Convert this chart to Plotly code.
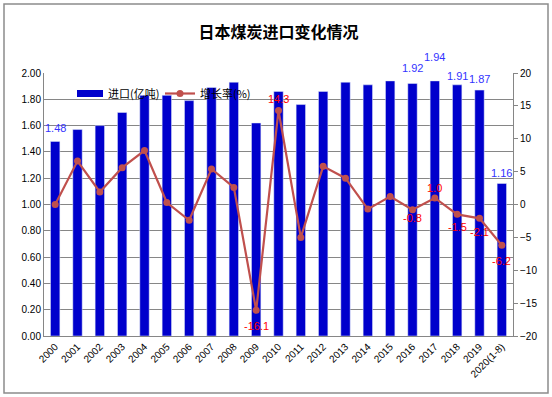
import plotly.graph_objects as go

years = ["2000", "2001", "2002", "2003", "2004", "2005", "2006", "2007", "2008", "2009", "2010",
         "2011", "2012", "2013", "2014", "2015", "2016", "2017", "2018", "2019", "2020(1-8)"]
imports = [1.48, 1.57, 1.60, 1.70, 1.83, 1.83, 1.79, 1.89, 1.93, 1.62, 1.86,
           1.76, 1.86, 1.93, 1.91, 1.94, 1.92, 1.94, 1.91, 1.87, 1.16]
growth = [0.0, 6.6, 1.9, 5.6, 8.2, 0.3, -2.4, 5.4, 2.6, -16.1, 14.3,
          -5.0, 5.8, 4.0, -0.7, 1.2, -0.8, 1.0, -1.5, -2.1, -6.2]
series_names = ["进口(亿吨)", "增长率(%)"]

# labelled points: (index, vertical shift in px)
bar_labels = {0: 13, 16: 16, 17: 24, 18: 9, 19: 11, 20: 10}
line_labels = {9: -16, 10: 11, 16: -8, 17: 10, 18: -13, 19: -14, 20: -16}

BLUE = "#0000CC"
RED_LINE = "#C0504D"
FONT = "Liberation Sans, Noto Sans CJK SC, sans-serif"
CJK = "Noto Sans CJK SC"

W, H = 552, 397
L, R, T, B = 44, 39, 73, 61
PW, PH = W - L - R, H - T - B


def px(x):
    return (x - L) / PW


def py(y):
    return (H - B - y) / PH


fig = go.Figure()
fig.add_trace(go.Bar(x=years, y=imports, name=series_names[0], marker_color=BLUE,
                     width=0.42, yaxis="y", showlegend=False))
fig.add_trace(go.Scatter(x=years, y=growth, name=series_names[1], mode="lines+markers",
                         line=dict(color=RED_LINE, width=2.2),
                         marker=dict(color=RED_LINE, size=7), yaxis="y2", showlegend=False))

for i, s in bar_labels.items():
    fig.add_annotation(x=i, xref="x", y=imports[i], yref="y", text=f"{imports[i]:.2f}",
                       showarrow=False, yshift=s, font=dict(color="#3333FF", size=11, family=FONT))
for i, s in line_labels.items():
    fig.add_annotation(x=i, xref="x", y=growth[i], yref="y2", text=f"{growth[i]:.1f}",
                       showarrow=False, yshift=s, font=dict(color="#FF0000", size=11, family=FONT))

# custom legend (wide bar swatch as in the reference)
fig.add_shape(type="rect", xref="paper", yref="paper", x0=px(77), x1=px(103),
              y0=py(97), y1=py(90), fillcolor=BLUE, line=dict(width=0))
fig.add_annotation(xref="paper", yref="paper", x=px(106), y=py(93.5), xanchor="left",
                   yanchor="middle", text=series_names[0], showarrow=False,
                   font=dict(size=11, color="black", family=CJK))
fig.add_shape(type="line", xref="paper", yref="paper", x0=px(165), x1=px(195),
              y0=py(93.5), y1=py(93.5), line=dict(color=RED_LINE, width=2.2))
fig.add_shape(type="circle", xref="paper", yref="paper", x0=px(176.5), x1=px(183.5),
              y0=py(97), y1=py(90), fillcolor=RED_LINE, line=dict(width=0))
fig.add_annotation(xref="paper", yref="paper", x=px(198), y=py(93.5), xanchor="left",
                   yanchor="middle", text=series_names[1], showarrow=False,
                   font=dict(size=11, color="black", family=CJK))

# outer chart border
fig.add_shape(type="rect", xref="paper", yref="paper", x0=px(4), x1=px(548),
              y0=py(393), y1=py(4), line=dict(color="#8C8C8C", width=1.5), layer="below")

fig.update_layout(
    width=W, height=H,
    margin=dict(l=L, r=R, t=T, b=B),
    paper_bgcolor="white", plot_bgcolor="white",
    title=dict(text="<b>日本煤炭进口变化情况</b>", x=0.5, xref="paper", xanchor="center",
               y=1 - 32 / H, yanchor="middle",
               font=dict(size=16, color="black", family=CJK)),
    showlegend=False,
    xaxis=dict(type="category", range=[-0.5, len(years) - 0.5], autorange=False,
               tickangle=-45, showgrid=False, showline=True,
               linecolor="#868686", linewidth=1, ticks="", tickfont=dict(size=10, color="black", family=FONT)),
    yaxis=dict(range=[0, 2.0], dtick=0.2, tickformat=".2f", showgrid=True, gridcolor="#868686",
               gridwidth=1, showline=True, linecolor="#868686", linewidth=1, ticks="",
               zeroline=False, tickfont=dict(size=10, color="black", family=FONT)),
    yaxis2=dict(range=[-20, 20], dtick=5, overlaying="y", side="right", showgrid=False,
                showline=True, linecolor="#868686", linewidth=1, ticks="outside", ticklen=4,
                tickcolor="#868686", zeroline=False,
                tickfont=dict(size=10, color="black", family=FONT)),
    font=dict(family=FONT),
)

fig.write_html("out.html", config={"displayModeBar": False},
               post_script="document.body.style.margin='0';document.body.style.overflow='hidden';")
